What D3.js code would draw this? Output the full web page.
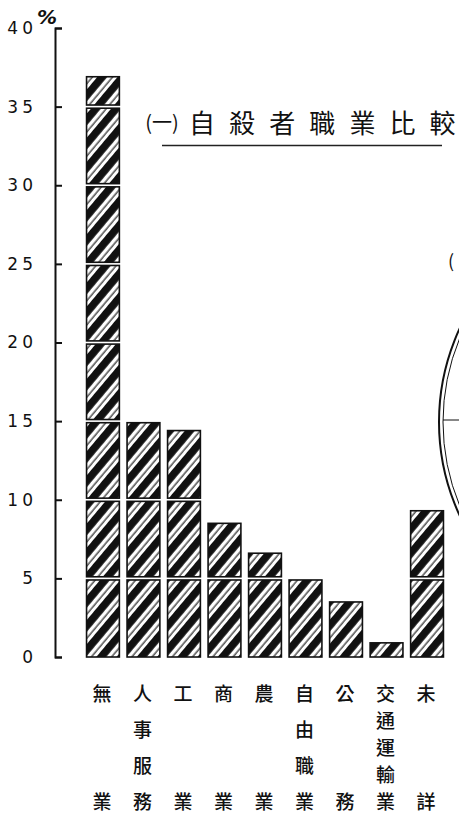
<!DOCTYPE html>
<html><head><meta charset="utf-8">
<script src="https://cdn.jsdelivr.net/npm/d3@7/dist/d3.min.js"></script>
<style>
html,body{margin:0;padding:0;background:#fff;}
svg{display:block;}
</style></head>
<body>
<script>
// ---- data ----
const categories = ["無業","人事服務","工業","商業","農業","自由職業","公務","交通運輸業","未詳"];
const values = [36.9, 15.1, 14.4, 8.5, 6.6, 5.0, 3.5, 0.9, 9.3];
const yTicks = [0, 5, 10, 15, 20, 25, 30, 35, 40];
const segmentSize = 5;
const titleMark = "(一)";
const titleText = "自殺者職業比較";
const unitLabel = "%";

// ---- layout ----
const W = 459, H = 822;
const svg = d3.select("body").append("svg").attr("width", W).attr("height", H);
svg.append("rect").attr("width", W).attr("height", H).attr("fill", "#fff");

const y = d3.scaleLinear().domain([0, 40]).range([657, 28]);
const x = d3.scaleBand().domain(categories).range([82.5, 447.5]).paddingInner(0.19).paddingOuter(0.1);

// hatch pattern
const defs = svg.append("defs");
const P = 15.5;
const pat = defs.append("pattern").attr("id", "hatch")
  .attr("patternUnits", "userSpaceOnUse").attr("width", P).attr("height", 40)
  .attr("patternTransform", "rotate(40)");
pat.append("rect").attr("width", P).attr("height", 40).attr("fill", "#fff");
pat.append("rect").attr("x", 0).attr("width", 7.6).attr("height", 40).attr("fill", "#111");
pat.append("rect").attr("x", 11.2).attr("width", 1.1).attr("height", 40).attr("fill", "#111");

// axis
const axis = d3.axisLeft(y).tickValues(yTicks).tickSizeInner(-7).tickSizeOuter(-7).tickPadding(22)
  .tickFormat(d => String(d));
const ag = svg.append("g").attr("transform", "translate(55,0)").call(axis);
ag.selectAll("path,line").attr("stroke", "#111").attr("stroke-width", 2);
ag.selectAll("text").attr("font-family", "DejaVu Sans").attr("font-size", 17)
  .attr("fill", "#111").attr("letter-spacing", "4px").attr("dx", 4);

svg.append("text").attr("x", 37).attr("y", 24).text(unitLabel)
  .attr("font-family", "DejaVu Sans").attr("font-weight", "bold").attr("font-style", "italic")
  .attr("font-size", 20).attr("fill", "#111");

// bars as stacked 5-unit segments
const segs = [];
categories.forEach((c, i) => {
  const v = values[i];
  for (let s = 0; s < v; s += segmentSize) {
    segs.push({ c, lo: s, hi: Math.min(s + segmentSize, v) });
  }
});
const segTop = d => y(d.hi) + (d.hi % segmentSize === 0 ? 1.6 : 0);
const segBot = d => y(d.lo) - (d.lo > 0 ? 1.6 : 0);
svg.append("g").selectAll("rect").data(segs).join("rect")
  .attr("x", d => x(d.c))
  .attr("width", x.bandwidth())
  .attr("y", segTop)
  .attr("height", d => segBot(d) - segTop(d))
  .attr("fill", "url(#hatch)")
  .attr("stroke", "#111").attr("stroke-width", 1.6);

// category labels (vertical text)
const lab = svg.append("g").attr("font-family", "Noto Sans CJK TC").attr("font-size", 19)
  .attr("font-weight", 500).attr("fill", "#111");
categories.forEach(c => {
  const chars = Array.from(c);
  const n = chars.length;
  const cx = x(c) + x.bandwidth() / 2 - 1;
  chars.forEach((ch, j) => {
    const yy = n === 1 ? 692 : 692 + (800 - 692) * j / (n - 1);
    lab.append("text").attr("x", cx).attr("y", yy).attr("text-anchor", "middle")
      .attr("dominant-baseline", "central").text(ch);
  });
});

// title
const tg = svg.append("g").attr("font-family", "Noto Sans CJK TC").attr("fill", "#111");
tg.append("text").attr("x", 162).attr("y", 121).attr("text-anchor", "middle")
  .attr("dominant-baseline", "central").attr("font-size", 20).text(titleMark);
Array.from(titleText).forEach((ch, j) => {
  tg.append("text").attr("x", 202 + j * 40.1).attr("y", 121).attr("text-anchor", "middle")
    .attr("dominant-baseline", "central").attr("font-size", 26).text(ch);
});
svg.append("line").attr("x1", 162).attr("x2", 442).attr("y1", 145.5).attr("y2", 145.5)
  .attr("stroke", "#222").attr("stroke-width", 1.6);

// fragment of the neighbouring chart on the right edge
svg.append("circle").attr("cx", 661).attr("cy", 422).attr("r", 222)
  .attr("fill", "none").attr("stroke", "#111").attr("stroke-width", 2);
svg.append("circle").attr("cx", 661).attr("cy", 422).attr("r", 218)
  .attr("fill", "none").attr("stroke", "#111").attr("stroke-width", 1);
svg.append("line").attr("x1", 443).attr("x2", 459).attr("y1", 420).attr("y2", 420)
  .attr("stroke", "#111").attr("stroke-width", 1);
svg.append("text").attr("x", 448).attr("y", 268).attr("font-family", "Noto Sans CJK TC")
  .attr("font-size", 18).attr("fill", "#111").text("(");
</script>
</body></html>
